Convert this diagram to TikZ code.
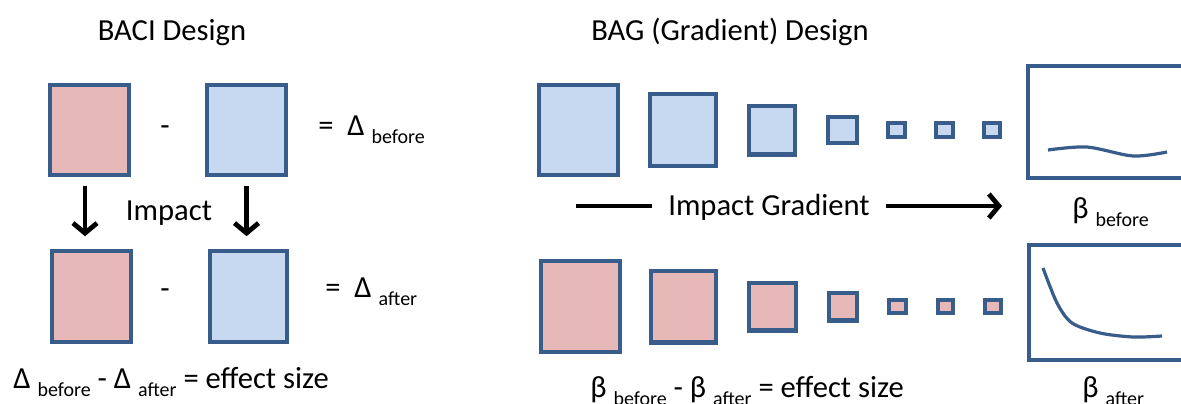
\documentclass[tikz,border=0pt]{standalone}
\usepackage{fontspec}
\setmainfont{Carlito}
\usetikzlibrary{arrows.meta}
\definecolor{edgeblue}{RGB}{56,93,138}
\definecolor{impactred}{RGB}{230,185,184}
\definecolor{controlblue}{RGB}{198,217,241}
\newcommand{\lowsub}[1]{\raisebox{-4pt}{\fontsize{10}{12}\selectfont #1}}
\begin{document}
\begin{tikzpicture}[x=0.5pt, y=-0.5pt,
	every node/.style={font=\fontsize{15.3}{18}\selectfont, inner sep=0pt},
	sq/.style 2 args={draw=edgeblue, line width=2.2pt, minimum width={#1*0.5pt-2.2pt}, minimum height={#2*0.5pt-2.2pt}, inner sep=0pt, outer sep=0pt},
	imp/.style={fill=impactred},
	ctl/.style={fill=controlblue},
	arr/.style={line width=2.4pt, -{Straight Barb[length=5pt,width=12pt]}},
	trend/.style={edgeblue, line width=1.6pt}]
	\clip (0,0) rectangle (1181,403);
	% BACI
	\node [anchor=base] (baci) at (172,40) {BACI Design};
	\node [sq={83}{94}, imp] (ib) at (89.5,130) {};
	\node [sq={83}{94}, ctl] (cb) at (246.5,130) {};
	\node [sq={83}{95}, imp] (ia) at (91.5,296.5) {};
	\node [sq={81}{95}, ctl] (ca) at (248.5,296.5) {};
	\node [anchor=base] (mb) at (165,135) {-};
	\node [anchor=base] (ma) at (165,298) {-};
	\node [anchor=base west] (db) at (318,135) {=\ \ Δ \lowsub{before}};
	\node [anchor=base west] (da) at (325,297) {=\ \ Δ \lowsub{after}};
	\node [anchor=base] (impact) at (169,220) {Impact};
	\draw [arr, shorten <=5.5pt, shorten >=7.5pt] ([xshift=-2.25pt]ib.south) -- ([xshift=-2.25pt]ib.south |- ia.north);
	\draw [arr, shorten <=5.5pt, shorten >=7.5pt] (cb.south) -- (cb.south |- ca.north);
	\node [anchor=base west] (effbaci) at (13,388) {Δ \lowsub{before} - Δ \lowsub{after} = effect size};
	% BAG
	\node [anchor=base] (bag) at (730,40) {BAG (Gradient) Design};
	\foreach \n/\x/\w/\h in {1/578.5/83/94, 2/683/70/76, 3/772/50/53, 4/842.5/33/30, 5/896.5/21/18, 6/944.5/21/18, 7/992/20/18}
		\node [sq={\w}{\h}, ctl] (g\n) at (\x,130) {};
	\foreach \n/\x/\w/\h in {1/580.5/83/95, 2/683.5/69/76, 3/772.5/51/52, 4/843/32/32, 5/897.5/21/17, 6/945.5/19/17, 7/993/20/17}
		\node [sq={\w}{\h}, imp] (h\n) at (\x,306.5) {};
	\coordinate (gs) at (576,206);
	\coordinate (ge) at (1002,206);
	\node [anchor=base, inner xsep=8pt] (grad) at (769,215) {Impact Gradient};
	\draw [line width=2.4pt] (gs) -- (gs -| grad.west);
	\draw [arr] (gs -| grad.east) -- (ge);
	\node [sq={164}{116}, fill=white] (pb) at (1108,122) {};
	\draw [trend] plot [smooth] coordinates {(1048,150) (1087,147) (1133,156) (1167,152)};
	\node [anchor=base west] (bb) at (1072,218) {β \lowsub{before}};
	\node [sq={160}{119}, fill=white] (pa) at (1107,302.5) {};
	\draw [trend] plot [smooth] coordinates {(1043,268) (1057,303) (1072,323) (1100,333) (1133,337) (1162,336)};
	\node [anchor=base west] (ba) at (1082,397) {β \lowsub{after}};
	\node [anchor=base west] (effbag) at (590,397) {β \lowsub{before} - β \lowsub{after} = effect size};
\end{tikzpicture}
\end{document}
